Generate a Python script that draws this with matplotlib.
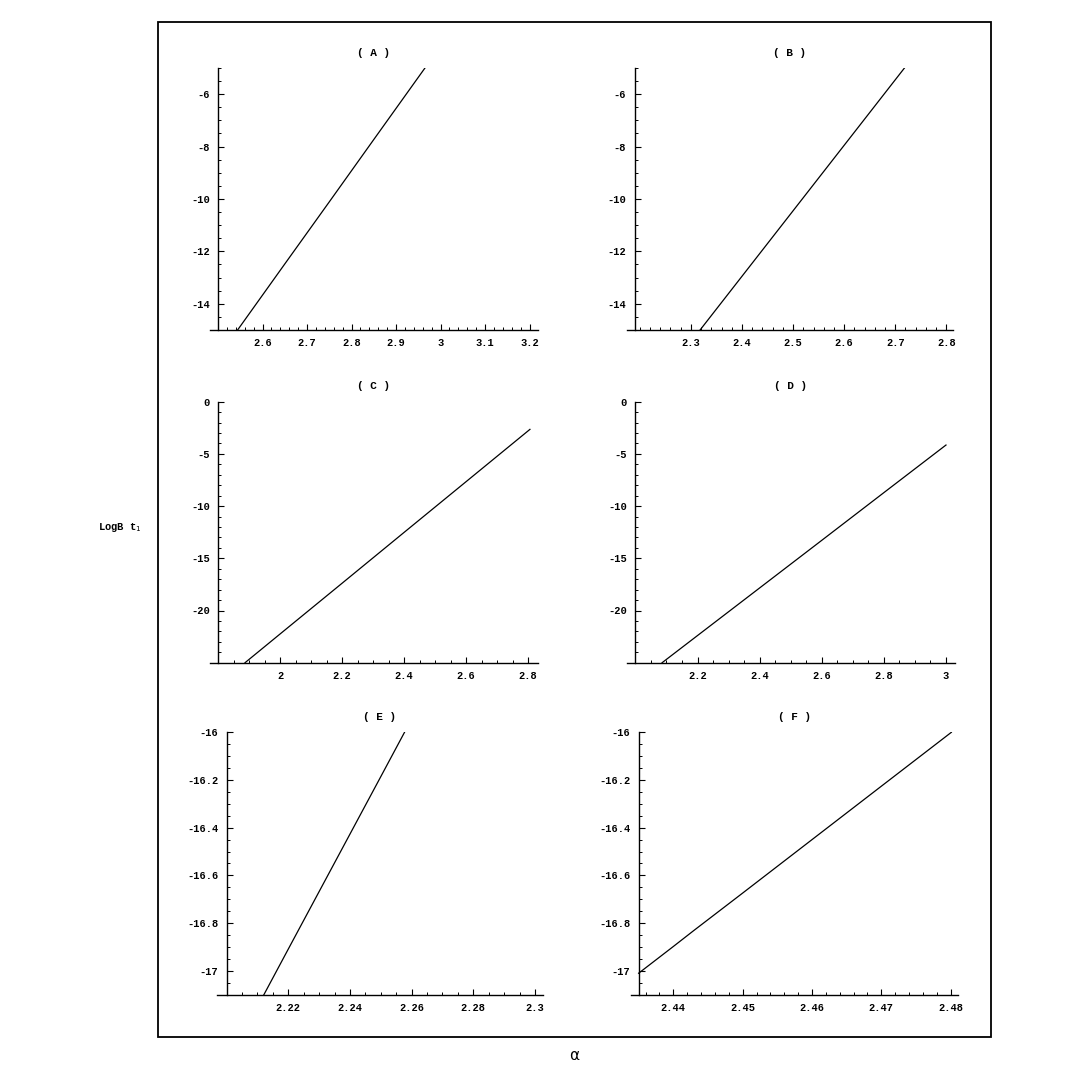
import numpy as np
import matplotlib
matplotlib.use("Agg")
import matplotlib.pyplot as plt
from matplotlib.ticker import FixedLocator, FuncFormatter
from matplotlib.patches import Rectangle

# ---------------- data ----------------
titles = ["( A )", "( B )", "( C )", "( D )", "( E )", "( F )"]

xA = [2.544, 2.65, 2.75, 2.85, 2.965]
yA = [-15.0, -12.48, -10.11, -7.73, -5.0]

xB = [2.318, 2.40, 2.44, 2.50, 2.60, 2.662, 2.718]
yB = [-15.0, -12.95, -11.95, -10.45, -7.95, -6.4, -5.0]

xC = [1.887, 2.0, 2.2, 2.4, 2.6, 2.806]
yC = [-25.0, -22.25, -17.39, -12.52, -7.66, -2.65]

xD = [2.086, 2.2, 2.4, 2.6, 2.8, 3.0]
yD = [-25.0, -22.40, -17.84, -13.28, -8.71, -4.15]

xE = [2.2121, 2.22, 2.23, 2.24, 2.25, 2.2577]
yE = [-17.1, -16.909, -16.668, -16.427, -16.186, -16.0]

xF = [2.435, 2.44, 2.443, 2.45, 2.46, 2.47, 2.4801]
yF = [-17.01, -16.898, -16.83, -16.674, -16.450, -16.226, -16.0]

# axis ranges / origins / ticks
x_origin = [2.5, 2.19, 1.8, 2.0, 2.2, 2.435]
xlims = [(2.482, 3.219), (2.175, 2.813), (1.774, 2.832), (1.973, 3.029),
         (2.1968, 2.3027), (2.4339, 2.4811)]
ylims = [(-15, -5), (-15, -5), (-25, 0), (-25, 0), (-17.1, -16.0), (-17.1, -16.0)]
x_major = [[2.6, 2.7, 2.8, 2.9, 3.0, 3.1, 3.2],
           [2.3, 2.4, 2.5, 2.6, 2.7, 2.8],
           [2.0, 2.2, 2.4, 2.6, 2.8],
           [2.2, 2.4, 2.6, 2.8, 3.0],
           [2.22, 2.24, 2.26, 2.28, 2.30],
           [2.44, 2.45, 2.46, 2.47, 2.48]]
x_minor_step = [0.02, 0.02, 0.05, 0.05, 0.005, 0.002]
y_major = [[-14, -12, -10, -8, -6],
           [-14, -12, -10, -8, -6],
           [-20, -15, -10, -5, 0],
           [-20, -15, -10, -5, 0],
           [-17.0, -16.8, -16.6, -16.4, -16.2, -16.0],
           [-17.0, -16.8, -16.6, -16.4, -16.2, -16.0]]
y_minor_step = [0.5, 0.5, 1.0, 1.0, 0.05, 0.05]

xs = [xA, xB, xC, xD, xE, xF]
ys = [yA, yB, yC, yD, yE, yF]

# ---------------- layout (pixel boxes of each axes) ----------------
W = H = 1090
boxes = [(210, 538, 68, 330), (627, 953, 68, 330),
         (210, 538, 401.7, 662.7), (627, 955, 401.7, 662.7),
         (216.7, 543.3, 732.3, 994.7), (631, 958.3, 732.3, 994.7)]

mono = "Liberation Mono"

fig = plt.figure(figsize=(W / 100, H / 100), dpi=100)
fig.patch.set_facecolor("white")

fmt = FuncFormatter(lambda v, p: ("%g" % round(v, 6)))

for i in range(6):
    l, r, t, b = boxes[i]
    ax = fig.add_axes([l / W, 1 - b / H, (r - l) / W, (b - t) / H])
    ax.plot(xs[i], ys[i], color="black", lw=0.9)
    ax.set_xlim(*xlims[i])
    ax.set_ylim(*ylims[i])
    for s in ("top", "right"):
        ax.spines[s].set_visible(False)
    ax.spines["left"].set_position(("data", x_origin[i]))
    ax.spines["left"].set_linewidth(1.0)
    ax.spines["bottom"].set_linewidth(1.0)

    ax.xaxis.set_major_locator(FixedLocator(x_major[i]))
    ax.yaxis.set_major_locator(FixedLocator(y_major[i]))
    st = x_minor_step[i]
    xm = np.arange(np.ceil(x_origin[i] / st) * st, xlims[i][1] + 1e-9, st)
    ax.xaxis.set_minor_locator(FixedLocator(xm))
    st = y_minor_step[i]
    ym = np.arange(np.ceil(ylims[i][0] / st) * st, ylims[i][1] + 1e-9, st)
    ax.yaxis.set_minor_locator(FixedLocator(ym))
    ax.xaxis.set_major_formatter(fmt)
    ax.yaxis.set_major_formatter(fmt)

    ax.tick_params(which="major", direction="in", length=4, width=0.8,
                   labelsize=7.5, pad=6)
    ax.tick_params(which="minor", direction="in", length=2, width=0.7)
    for lab in ax.get_xticklabels() + ax.get_yticklabels():
        lab.set_family(mono)
        lab.set_fontweight("bold")
    ax.set_title(titles[i], fontsize=8, family=mono, fontweight="bold", pad=9)
    ax.patch.set_alpha(0)

# outer frame
fl, fr, ft, fb = 158, 991, 21.7, 1037
fig.patches.append(Rectangle((fl / W, 1 - fb / H), (fr - fl) / W, (fb - ft) / H,
                             transform=fig.transFigure, fill=False,
                             edgecolor="black", linewidth=1.3))

fig.text(120 / W, 1 - 528 / H, "LogB t$_1$", family=mono, fontweight="bold",
         fontsize=7.5, ha="center", va="center")
fig.text(574 / W, 1 - 1056 / H, "α", fontsize=11, ha="center", va="center",
         family="DejaVu Sans")

fig.savefig("out.png", dpi=100)
